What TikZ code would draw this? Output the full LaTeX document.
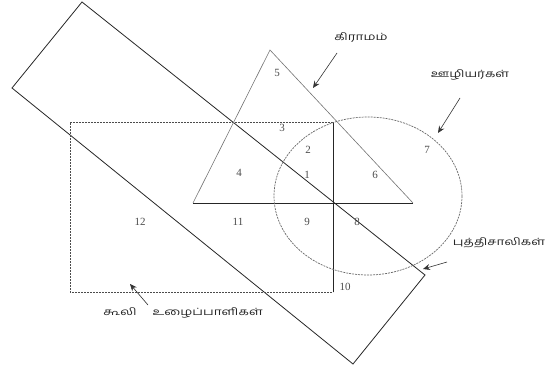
\documentclass[tikz,border=0pt]{standalone}
\usepackage{fontspec}
\setmainfont{Liberation Serif}
\newfontfamily\tamilfont[Script=Tamil, FakeStretch=1.35]{Hind Madurai}
\usepackage{tikz}
\usetikzlibrary{arrows.meta}

\begin{document}
\begin{tikzpicture}[
    x=1pt, y=-1pt,
    num/.style={font=\fontsize{11}{12}\selectfont, text=black!70, inner sep=0pt},
    lbl/.style={font=\tamilfont\fontsize{10}{11}\selectfont, text=black!85, inner sep=1pt},
    arr/.style={-{Stealth[length=7pt,width=6pt]}, draw=black!80, line width=0.6pt},
    setline/.style={draw=black!85, line width=0.8pt},
    faint/.style={draw=black!55, line width=0.6pt},
    dotline/.style={draw=black!70, line width=0.7pt, dash pattern=on 2pt off 1pt}
  ]
    \useasboundingbox (0,0) rectangle (549,372);
    \draw[setline] (82,2) -- (425,275) -- (353,364) -- (12,88) -- cycle;
    \draw[dotline] (333,122) -- (70,122) -- (70,292) -- (333,292);
    \draw[setline] (333,122) -- (333,292);
    \draw[faint] (193,203) -- (270,50) -- (413,203);
    \draw[setline, line width=0.7pt] (193,203) -- (413,203);
    \draw[dotline, draw=black!60] (368,196) ellipse [x radius=94, y radius=79];

    \node[num] (n1) at (307,175) {1};
    \node[num] (n2) at (308,150) {2};
    \node[num] (n3) at (282,128) {3};
    \node[num] (n4) at (239,173) {4};
    \node[num] (n5) at (277,73) {5};
    \node[num] (n6) at (375,175) {6};
    \node[num] (n7) at (427,150) {7};
    \node[num] (n8) at (357,222) {8};
    \node[num] (n9) at (307,222) {9};
    \node[num] (n10) at (345,287) {10};
    \node[num] (n11) at (238,222) {11};
    \node[num] (n12) at (140,222) {12};

    \node[lbl] (village) at (361,38) {கிராமம்};
    \node[lbl] (staff) at (470,75) {ஊழியர்கள்};
    \node[lbl] (smart) at (499,243) {புத்திசாலிகள்};
    \node[lbl] (wage) at (183,313) {கூலி\hspace{1.6em}உழைப்பாளிகள்};

    \coordinate (villageT) at (337,53);
    \coordinate (villageH) at (313,88);
    \coordinate (staffT) at (460,98);
    \coordinate (staffH) at (438,133);
    \coordinate (smartT) at (447,262);
    \coordinate (smartH) at (423,269);
    \coordinate (wageT) at (148,305);
    \coordinate (wageH) at (130,284);
    \draw[arr] (villageT) -- (villageH);
    \draw[arr] (staffT) -- (staffH);
    \draw[arr] (smartT) -- (smartH);
    \draw[arr] (wageT) -- (wageH);
\end{tikzpicture}
\end{document}
